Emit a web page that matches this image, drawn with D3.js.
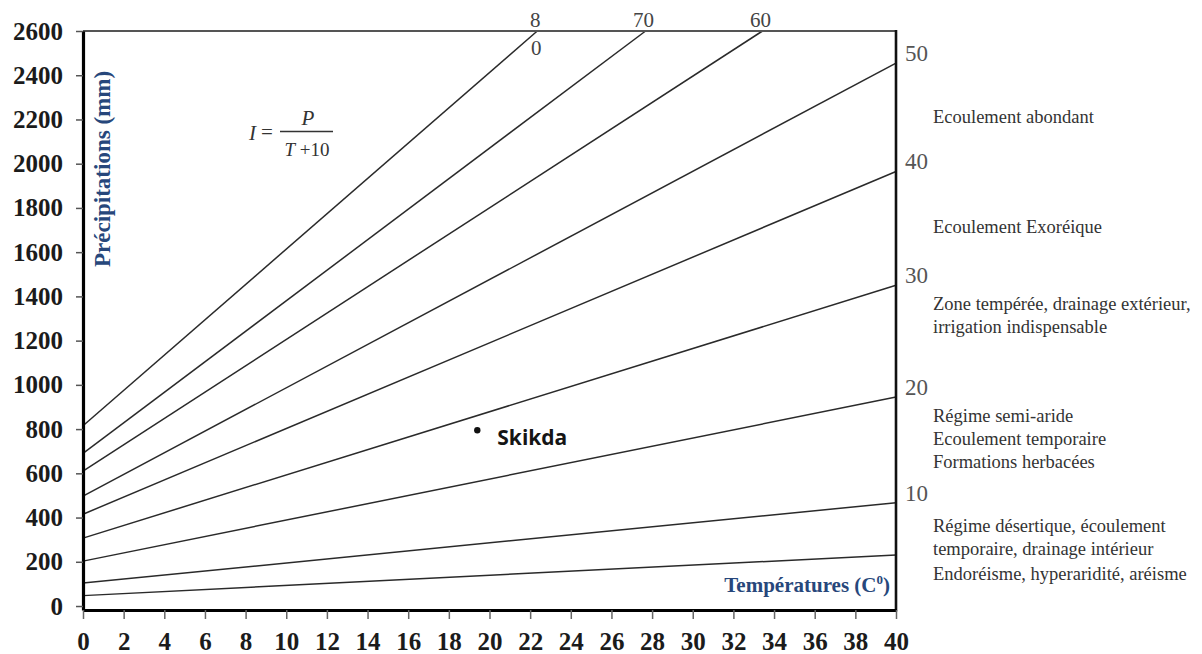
<!DOCTYPE html>
<html>
<head>
<meta charset="utf-8">
<script src="https://cdn.jsdelivr.net/npm/d3@7"></script>
<style>
  html, body { margin: 0; padding: 0; background: #fff; }
  svg { display: block; }
</style>
</head>
<body>
<svg id="chart" width="1202" height="654"></svg>
<script>
// De Martonne aridity index abacus: I = P / (T + 10)
// Each iso-index line runs from T = 0 to where it leaves the frame.
const aridityIndex = [80, 70, 60, 50, 40, 30, 20, 10, 5];
const startPrecip  = [815, 690, 610, 497, 415, 307, 203, 104, 47];      // P (mm) at T = 0
const endTemp      = [22.35, 27.68, 33.43, 40, 40, 40, 40, 40, 40];     // T (°C) at the exit point
const endPrecip    = [2600, 2600, 2600, 2455, 1965, 1450, 945, 467, 231]; // P (mm) at the exit point

const precipTicks = [0, 200, 400, 600, 800, 1000, 1200, 1400, 1600, 1800, 2000, 2200, 2400, 2600];
const tempTicks   = [0, 2, 4, 6, 8, 10, 12, 14, 16, 18, 20, 22, 24, 26, 28, 30, 32, 34, 36, 38, 40];

// Climate regimes, from the wettest band down to the driest
const zoneNotes = [
  ["Ecoulement abondant"],
  ["Ecoulement Exoréique"],
  ["Zone tempérée, drainage extérieur,", "irrigation indispensable"],
  ["Régime semi-aride", "Ecoulement temporaire", "Formations herbacées"],
  ["Régime désertique, écoulement", "temporaire, drainage intérieur", "Endoréisme, hyperaridité, aréisme"]
];

// Station plotted on the abacus
const stationNames  = ["Skikda"];
const stationTemp   = [19.4];
const stationPrecip = [795];

// ---------------------------------------------------------------------------
const serif = "'Liberation Serif', 'Times New Roman', Times, serif";
const svg = d3.select("#chart");
svg.append("rect").attr("width", 1202).attr("height", 654).attr("fill", "#fff");

const x = d3.scaleLinear().domain([0, 40]).range([83, 896]);
const y = d3.scaleLinear().domain([-18, 2600]).range([610, 31]);

// Iso-index lines
const lines = aridityIndex.map((I, i) => ({
  I,
  pts: [[0, startPrecip[i]], [endTemp[i], endPrecip[i]]]
}));
const lineGen = d3.line().x(d => x(d[0])).y(d => y(d[1]));

svg.append("g")
  .selectAll("path")
  .data(lines)
  .join("path")
  .attr("d", d => lineGen(d.pts))
  .attr("fill", "none")
  .attr("stroke", "#2a2a2a")
  .attr("stroke-width", 1.5);

// Frame: top and right edges
svg.append("line")
  .attr("x1", x(0)).attr("x2", x(40)).attr("y1", y(2600)).attr("y2", y(2600))
  .attr("stroke", "#555").attr("stroke-width", 2);
svg.append("line")
  .attr("x1", x(40)).attr("x2", x(40)).attr("y1", y(2600) - 1).attr("y2", y(-18) + 1.5)
  .attr("stroke", "#111").attr("stroke-width", 2.6);

// Precipitation axis
const yAxis = svg.append("g")
  .attr("transform", `translate(${x(0)},0)`)
  .call(d3.axisLeft(y).tickValues(precipTicks).tickFormat(d3.format("d"))
    .tickSize(7).tickSizeOuter(0).tickPadding(13));
yAxis.select(".domain").attr("stroke", "#000").attr("stroke-width", 3.2);
yAxis.selectAll(".tick line").attr("stroke", "#555").attr("stroke-width", 1.5);
yAxis.selectAll(".tick text")
  .attr("font-family", serif).attr("font-weight", "bold").attr("font-size", 25)
  .attr("fill", "#1b1b1b");

// Temperature axis
const xAxis = svg.append("g")
  .attr("transform", `translate(0,${y(-18)})`)
  .call(d3.axisBottom(x).tickValues(tempTicks).tickFormat(d3.format("d"))
    .tickSize(9).tickSizeOuter(0).tickPadding(13));
xAxis.select(".domain").attr("stroke", "#000").attr("stroke-width", 3.2);
xAxis.selectAll(".tick line").attr("stroke", "#666").attr("stroke-width", 1.5);
xAxis.selectAll(".tick text")
  .attr("font-family", serif).attr("font-weight", "bold").attr("font-size", 25)
  .attr("fill", "#1b1b1b");

// Axis titles
svg.append("text")
  .attr("transform", "translate(110,169) rotate(-90)")
  .attr("text-anchor", "middle")
  .attr("font-family", serif).attr("font-weight", "bold").attr("font-size", 23)
  .attr("fill", "#27477b")
  .text("Précipitations (mm)");

const xTitle = svg.append("text")
  .attr("x", 890).attr("y", 592)
  .attr("text-anchor", "end")
  .attr("font-family", serif).attr("font-weight", "bold").attr("font-size", 21)
  .attr("fill", "#27477b");
xTitle.append("tspan").text("Températures (C");
xTitle.append("tspan").attr("dy", -8).attr("font-size", 13).text("0");
xTitle.append("tspan").attr("dy", 8).text(")");

// Index values where the lines meet the right edge
svg.append("g")
  .selectAll("text")
  .data(lines.filter((d, i) => endTemp[i] === 40 && d.I >= 10))
  .join("text")
  .attr("x", x(40) + 9)
  .attr("y", d => y(d.pts[1][1]) - 2)
  .attr("font-family", serif).attr("font-size", 23)
  .attr("fill", "#555")
  .text(d => d.I);

// Index values where the steep lines leave through the top edge
const topLines = lines.filter((d, i) => endPrecip[i] === 2600);
const topLabels = svg.append("g")
  .attr("font-family", serif).attr("font-size", 21).attr("fill", "#444")
  .attr("text-anchor", "middle");
topLines.forEach(d => {
  const s = String(d.I);
  const cx = x(d.pts[1][0]) - 2;
  if (d.I === 80) {
    // the frame cuts through this label: first digit above, second below
    topLabels.append("text").attr("x", cx).attr("y", y(2600) - 4).text(s[0]);
    topLabels.append("text").attr("x", cx + 1).attr("y", y(2600) + 24).text(s.slice(1));
  } else {
    topLabels.append("text").attr("x", cx).attr("y", y(2600) - 4).text(s);
  }
});

// Regime descriptions on the right
const noteBaselines = [[123], [233], [310, 333], [422, 445, 468], [532, 555, 580]];
const notes = svg.append("g")
  .attr("font-family", serif).attr("font-size", 18.5).attr("fill", "#333");
zoneNotes.forEach((block, bi) => {
  block.forEach((txt, li) => {
    notes.append("text").attr("x", 933).attr("y", noteBaselines[bi][li]).text(txt);
  });
});

// Formula  I = P / (T + 10)
const f = svg.append("g").attr("font-family", serif).attr("font-size", 21).attr("fill", "#333");
f.append("text").attr("x", 249).attr("y", 140).attr("font-style", "italic").text("I");
f.append("text").attr("x", 261).attr("y", 139).text("=");
f.append("line").attr("x1", 280).attr("x2", 333).attr("y1", 131.5).attr("y2", 131.5)
  .attr("stroke", "#333").attr("stroke-width", 1.3);
f.append("text").attr("x", 308).attr("y", 125).attr("text-anchor", "middle")
  .attr("font-style", "italic").text("P");
const den = f.append("text").attr("x", 307).attr("y", 156).attr("text-anchor", "middle")
  .attr("font-size", 19);
den.append("tspan").attr("font-style", "italic").text("T");
den.append("tspan").text(" +10");

// Station
const stations = stationNames.map((name, i) => ({ name, T: stationTemp[i], P: stationPrecip[i] }));
const st = svg.append("g").selectAll("g").data(stations).join("g");
st.append("circle")
  .attr("cx", d => x(d.T)).attr("cy", d => y(d.P)).attr("r", 3.2)
  .attr("fill", "#111");
st.append("text")
  .attr("x", d => x(d.T) + 20).attr("y", d => y(d.P) + 15)
  .attr("font-family", "'Open Sans', 'DejaVu Sans', sans-serif")
  .attr("font-weight", 700).attr("font-size", 21)
  .attr("fill", "#151515")
  .text(d => d.name);
</script>
</body>
</html>
